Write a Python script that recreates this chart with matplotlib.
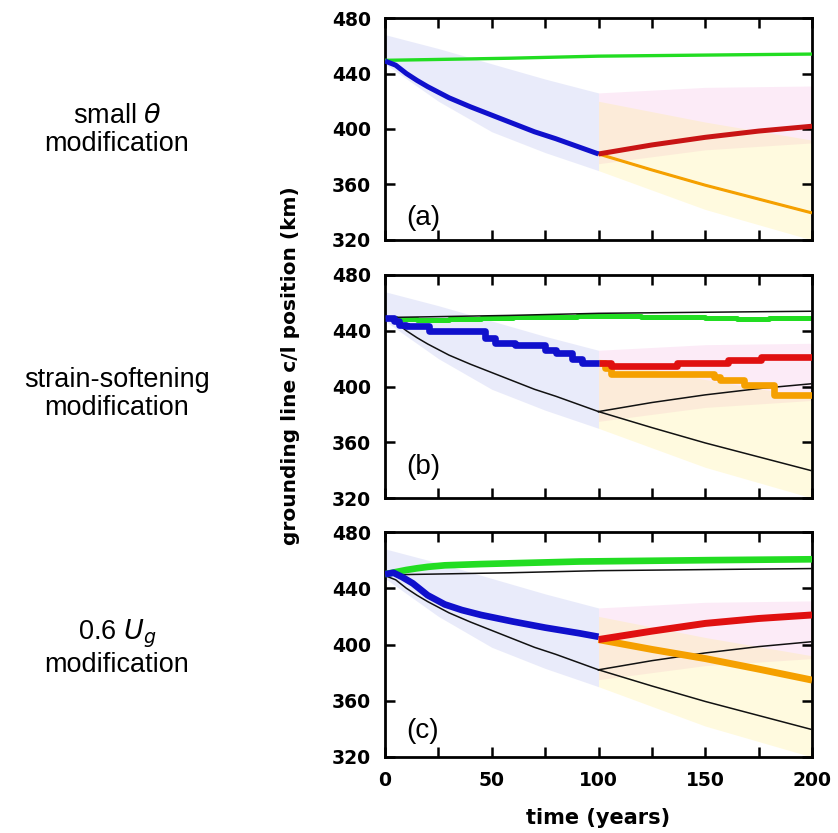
import matplotlib
matplotlib.use("Agg")
import matplotlib.pyplot as plt
import numpy as np

# ---------------- data ----------------
# reference (unmodified) runs, shown black in every panel
ref_green_t = [0, 20, 58, 100, 165, 200]
ref_green = [449.5, 450, 451, 452.5, 453.5, 454]
ref_blue_t = [0, 5, 10, 15, 20, 30, 40, 50, 60, 70, 80, 90, 100]
ref_blue = [449, 446, 440, 435, 430.5, 422.5, 416, 410, 404, 398, 393, 387.5, 382]
ref_red_t = [100, 125, 150, 175, 200]
ref_red = [382, 388.5, 394, 398.5, 402]
ref_orange_t = [100, 125, 150, 175, 200]
ref_orange = [382, 370.5, 359.5, 349.5, 339.5]

# uncertainty bands
band_blue_t = [0, 25, 50, 75, 100]
band_blue_hi = [468, 458, 447, 436, 426]
band_blue_lo = [447, 420, 398, 383, 370]
band_red_t = [100, 150, 200]
band_red_hi = [426, 430, 431]
band_red_lo = [375, 385, 390]
band_orange_t = [100, 150, 200]
band_orange_hi = [420, 405, 392]
band_orange_lo = [370, 342, 320]

# (a) small theta modification
a_green_t = ref_green_t
a_green = ref_green
a_blue_t = ref_blue_t
a_blue = ref_blue
a_red_t = ref_red_t
a_red = ref_red
a_orange_t = ref_orange_t
a_orange = ref_orange

# (b) strain-softening modification (step-like)
b_green_t = [0, 5, 15, 30, 45, 60, 90, 120, 150, 165, 180, 200]
b_green = [449, 448.5, 448, 448.5, 449.5, 450, 450.5, 450, 449.5, 448.5, 449, 449]
b_blue_t = [0, 4, 6.5, 9.7, 20.6, 47, 51.7, 61, 75, 80, 87.5, 92.2, 100]
b_blue = [449, 447, 444, 443.5, 440, 434.5, 431.5, 430, 426, 424, 419.5, 417, 417]
b_red_t = [100, 106, 137, 160.7, 176, 200]
b_red = [417, 414.6, 417, 419, 421.4, 421.4]
b_orange_t = [100, 103, 106, 154, 157, 168, 182, 200]
b_orange = [417, 413, 409, 407, 404.5, 401, 394, 394]

# (c) 0.6 Ug modification
c_green_t = [0, 5, 10, 15, 20, 28, 45, 60, 91, 153, 200]
c_green = [450, 451.5, 453, 454.2, 455.2, 456.3, 457.2, 457.8, 459, 460, 460.6]
c_blue_t = [0, 4, 8, 13, 20, 28, 36, 45, 60, 75, 91, 100]
c_blue = [450, 451, 448, 443.5, 435, 428.5, 424.5, 421, 416.3, 412, 408, 405.5]
c_red_t = [100, 125, 150, 175, 200]
c_red = [403.5, 409.5, 415, 418.5, 421]
c_orange_t = [100, 125, 150, 175, 200]
c_orange = [403.5, 396.5, 390, 382.5, 374.7]

panel_labels = ["(a)", "(b)", "(c)"]
row_titles = ["small $\\theta$\nmodification",
              "strain-softening\nmodification",
              "0.6 $U_g$\nmodification"]
x_ticks = [0, 50, 100, 150, 200]
y_ticks = [320, 360, 400, 440, 480]

# ---------------- figure ----------------
W, H = 838, 833
fig = plt.figure(figsize=(W / 100, H / 100), dpi=100)

GREEN = "#22dd22"
BLUE = "#1010cc"
RED = "#e01010"
ORANGE = "#f5a000"

panels = [
    dict(top=18, bot=240, green=(a_green_t, a_green), blue=(a_blue_t, a_blue),
         red=(a_red_t, a_red), orange=(a_orange_t, a_orange), steps=False,
         lw=dict(green=2.4, blue=3.6, red=3.6, orange=2.2), red_c="#c81414",
         label_y=0.04),
    dict(top=275, bot=498, green=(b_green_t, b_green), blue=(b_blue_t, b_blue),
         red=(b_red_t, b_red), orange=(b_orange_t, b_orange), steps=True,
         lw=dict(green=3.6, blue=4.8, red=4.8, orange=4.8), red_c=RED,
         label_y=0.08),
    dict(top=532, bot=757, green=(c_green_t, c_green), blue=(c_blue_t, c_blue),
         red=(c_red_t, c_red), orange=(c_orange_t, c_orange), steps=False,
         lw=dict(green=4.8, blue=4.8, red=5.0, orange=5.0), red_c=RED,
         label_y=0.06),
]

left_px, right_px = 385, 812
axes = []
for i, p in enumerate(panels):
    ax = fig.add_axes([left_px / W, 1 - p["bot"] / H,
                       (right_px - left_px) / W, (p["bot"] - p["top"]) / H])
    axes.append(ax)
    # bands
    ax.fill_between(band_blue_t, band_blue_lo, band_blue_hi,
                    color=(0.76, 0.78, 0.95), alpha=0.35, lw=0, zorder=1)
    ax.fill_between(band_red_t, band_red_lo, band_red_hi,
                    color=(0.97, 0.74, 0.90), alpha=0.30, lw=0, zorder=1)
    ax.fill_between(band_orange_t, band_orange_lo, band_orange_hi,
                    color=(1.0, 0.93, 0.50), alpha=0.25, lw=0, zorder=1)
    # reference lines
    for t, v in [(ref_green_t, ref_green), (ref_blue_t, ref_blue),
                 (ref_red_t, ref_red), (ref_orange_t, ref_orange)]:
        ax.plot(t, v, color="#111111", lw=1.1, zorder=3)
    ds = "steps-post" if p["steps"] else "default"
    lw = p["lw"]
    ax.plot(*p["green"], color=GREEN, lw=lw["green"], drawstyle=ds,
            zorder=4 if i != 1 else 2.5, solid_capstyle="butt")
    ax.plot(*p["orange"], color=ORANGE, lw=lw["orange"], drawstyle=ds, zorder=4,
            solid_capstyle="butt")
    ax.plot(*p["red"], color=p["red_c"], lw=lw["red"], drawstyle=ds, zorder=5,
            solid_capstyle="butt")
    ax.plot(*p["blue"], color=BLUE, lw=lw["blue"], drawstyle=ds, zorder=5,
            solid_capstyle="butt")

    ax.set_xlim(0, 200)
    ax.set_ylim(320, 480)
    ax.set_xticks(x_ticks)
    ax.set_xticks([25, 75, 125, 175], minor=True)
    ax.set_yticks(y_ticks)
    ax.tick_params(axis="both", which="both", direction="in", top=True,
                   right=True, length=7, width=1.8, labelsize=13.5)
    ax.tick_params(axis="y", pad=10)
    ax.tick_params(axis="x", pad=10)
    for lab in ax.get_yticklabels() + ax.get_xticklabels():
        lab.set_fontweight("bold")
        lab.set_family("DejaVu Sans")
    if i < 2:
        ax.set_xticklabels([])
    for s in ax.spines.values():
        s.set_linewidth(2.0)
    ax.text(0.05, p["label_y"], panel_labels[i], transform=ax.transAxes,
            fontsize=20, family="Liberation Sans", ha="left", va="bottom",
            zorder=6)

axes[2].set_xlabel("time (years)", fontsize=15, fontweight="bold",
                   family="DejaVu Sans", labelpad=13)

fig.text(290 / W, 1 - 366 / H, "grounding line c/l position (km)",
         rotation=90, fontsize=14.5, fontweight="bold", family="DejaVu Sans",
         ha="center", va="center")

for y_px, txt in zip([130, 394, 648], row_titles):
    fig.text(117 / W, 1 - y_px / H, txt, fontsize=19.5,
             family="Liberation Sans", ha="center", va="center",
             linespacing=1.1)

fig.savefig("out.png", dpi=100, facecolor="white")
